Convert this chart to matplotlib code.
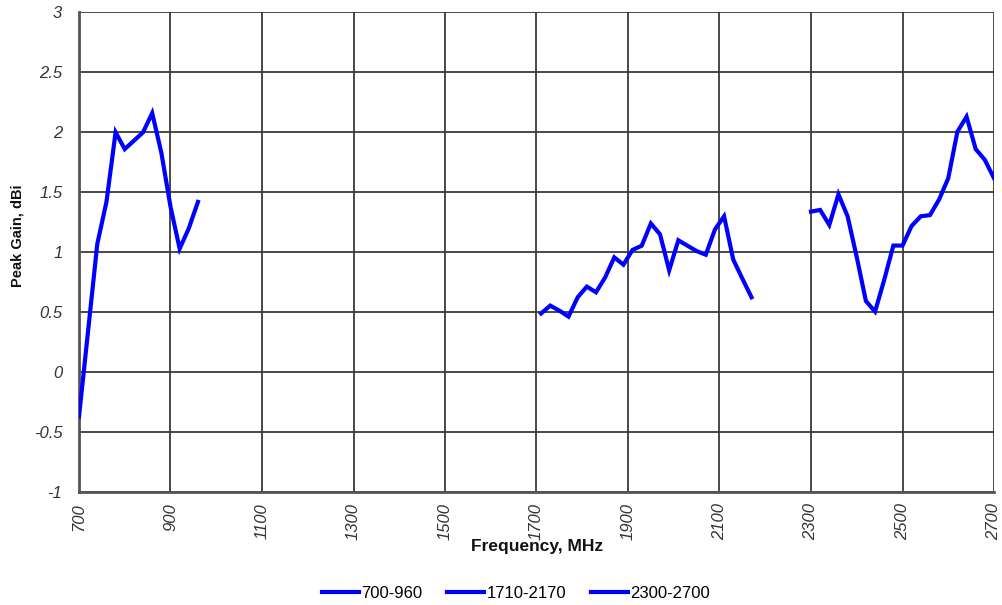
import matplotlib
matplotlib.use("Agg")
from matplotlib import pyplot as plt

# 700-960 MHz band
freq_low = [700, 720, 740, 760, 780, 800, 820, 840, 860, 880, 900, 920, 940, 960]
gain_low = [-0.37, 0.35, 1.07, 1.42, 2.0, 1.86, 1.93, 2.0, 2.16, 1.83, 1.38, 1.03, 1.2, 1.42]

# 1710-2170 MHz band
freq_mid = [1710, 1730, 1750, 1770, 1790, 1810, 1830, 1850, 1870, 1890, 1910, 1930,
            1950, 1970, 1990, 2010, 2030, 2050, 2070, 2090, 2110, 2130, 2150, 2170]
gain_mid = [0.49, 0.556, 0.514, 0.464, 0.625, 0.714, 0.667, 0.79, 0.958, 0.897, 1.02, 1.055,
            1.24, 1.15, 0.85, 1.10, 1.055, 1.01, 0.98, 1.19, 1.30, 0.94, 0.78, 0.625]

# 2300-2700 MHz band
freq_high = [2300, 2320, 2340, 2360, 2380, 2400, 2420, 2440, 2460, 2480, 2500,
             2520, 2540, 2560, 2580, 2600, 2620, 2640, 2660, 2680, 2700]
gain_high = [1.339, 1.353, 1.228, 1.483, 1.30, 0.96, 0.594, 0.506, 0.77, 1.056, 1.056,
             1.22, 1.30, 1.31, 1.44, 1.617, 2.005, 2.13, 1.86, 1.77, 1.617]

series_labels = ["700-960", "1710-2170", "2300-2700"]
x_ticks = [700, 900, 1100, 1300, 1500, 1700, 1900, 2100, 2300, 2500, 2700]
y_ticks = [-1, -0.5, 0, 0.5, 1, 1.5, 2, 2.5, 3]
y_tick_labels = ["-1", "-0.5", "0", "0.5", "1", "1.5", "2", "2.5", "3"]

FONT = ["Liberation Sans", "DejaVu Sans"]


def main() -> None:
    fig = plt.figure(figsize=(10.03, 6.05), dpi=100)
    ax = fig.add_axes([79 / 1003, 1 - 492.3 / 605, 915 / 1003, 480 / 605])

    for fr, gn, lab in zip([freq_low, freq_mid, freq_high],
                           [gain_low, gain_mid, gain_high], series_labels):
        ax.plot(fr, gn, color="#0000ff", lw=3.0, label=lab,
                solid_joinstyle="miter", zorder=3)

    ax.set_xlim(700, 2700)
    ax.set_ylim(-1, 3)
    ax.set_xticks(x_ticks)
    ax.set_xticklabels([str(t) for t in x_ticks], rotation=90, fontsize=12,
                       family=FONT, style="italic", color="#333333")
    ax.set_yticks(y_ticks)
    ax.set_yticklabels(y_tick_labels, fontsize=12, family=FONT,
                       style="italic", color="#333333")
    ax.tick_params(axis="x", length=0, pad=8)
    ax.tick_params(axis="y", length=0, pad=12)
    ax.grid(True, color="#3a3a3a", lw=1.3)
    ax.set_axisbelow(True)
    for side in ["top", "right"]:
        ax.spines[side].set_visible(False)
    for side in ["left", "bottom"]:
        ax.spines[side].set_color("#555555")
        ax.spines[side].set_linewidth(2)

    fig.text(537 / 1003, 1 - 546 / 605, "Frequency, MHz", ha="center", va="center",
             fontsize=12.5, fontweight="bold", family=FONT, color="#111111")
    fig.text(18 / 1003, 1 - 236 / 605, "Peak Gain, dBi", ha="center", va="center",
             rotation=90, fontsize=10.5, fontweight="bold", family=FONT, color="#111111")

    fig.legend(loc="center", bbox_to_anchor=(516 / 1003, 1 - 593 / 605), ncol=3,
               frameon=False, prop={"family": FONT, "size": 12},
               handlelength=2.2, handletextpad=0.15, columnspacing=1.5)

    fig.savefig("out.png", dpi=100)


if __name__ == "__main__":
    main()
